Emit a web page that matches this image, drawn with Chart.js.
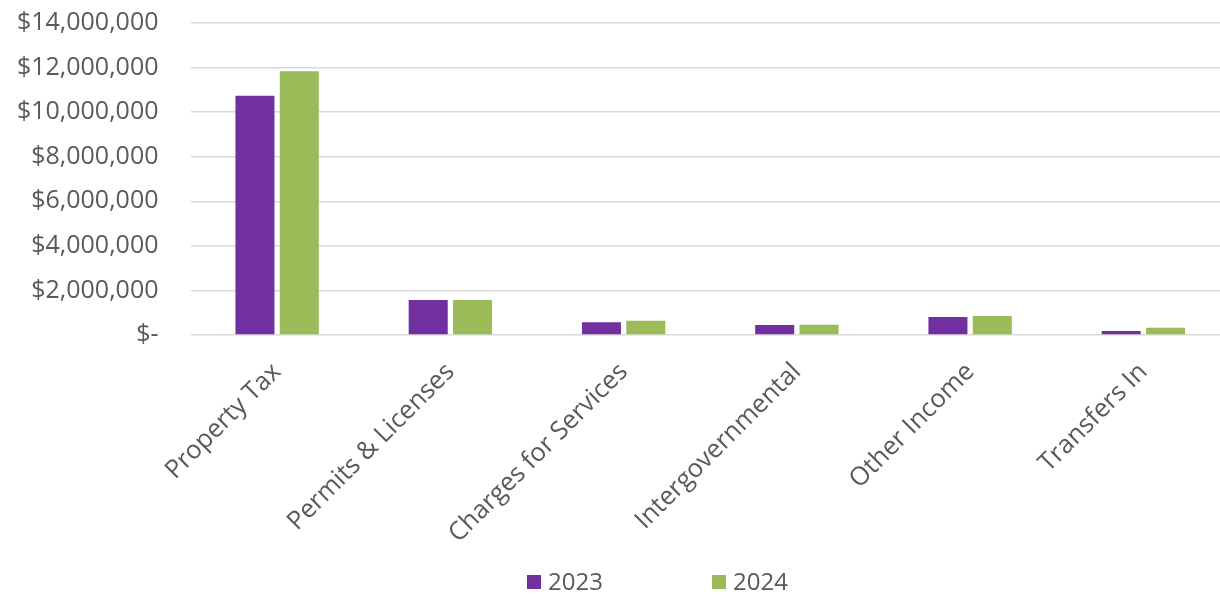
<!DOCTYPE html>
<html>
<head>
<meta charset="utf-8">
<script src="https://cdn.jsdelivr.net/npm/chart.js@4.4.1/dist/chart.umd.min.js"></script>
<style>
  html, body { margin: 0; padding: 0; background: #ffffff; overflow: hidden; }
  #wrap { position: relative; width: 1230px; height: 595px; overflow: hidden; }
  #chart { position: absolute; left: 0; top: -24px; }
  .legend { position: absolute; top: 566px; font-family: "Open Sans", Lato, sans-serif; font-size: 24px; color: #595959; line-height: 30px; white-space: nowrap; }
  .legend .box { display: inline-block; width: 14px; height: 14px; margin-right: 7px; vertical-align: 1px; }
</style>
</head>
<body>
<div id="wrap">
  <canvas id="chart" width="1230" height="619"></canvas>
  <div class="legend" style="left:527px"><span class="box" style="background:#7030A0"></span>2023</div>
  <div class="legend" style="left:712px"><span class="box" style="background:#9BBB59"></span>2024</div>
</div>
<script>
// Revenue by source, fiscal years 2023 and 2024 (dollars)
const categories = [
  'Property Tax',
  'Permits & Licenses',
  'Charges for Services',
  'Intergovernmental',
  'Other Income',
  'Transfers In'
];
const seriesNames = ['2023', '2024'];
const revenue2023 = [10730000, 1565000, 570000, 450000, 805000, 180000];
const revenue2024 = [11840000, 1565000, 640000, 460000, 850000, 330000];
const yTickValues = [0, 2000000, 4000000, 6000000, 8000000, 10000000, 12000000, 14000000];

const FONT = '"Open Sans", Lato, sans-serif';
const TEXT = '#595959';

function formatDollars(v) {
  if (v === 0) return '$-';
  return '$' + v.toLocaleString('en-US');
}

new Chart(document.getElementById('chart'), {
  type: 'bar',
  data: {
    labels: categories,
    datasets: [
      { label: seriesNames[0], data: revenue2023, backgroundColor: '#7030A0' },
      { label: seriesNames[1], data: revenue2024, backgroundColor: '#9BBB59' }
    ]
  },
  options: {
    responsive: false,
    animation: false,
    layout: { padding: { top: 0, right: 0, left: 0, bottom: 0 } },
    datasets: { bar: { categoryPercentage: 0.512, barPercentage: 0.88 } },
    plugins: {
      legend: { display: false },
      tooltip: { enabled: false }
    },
    scales: {
      x: {
        grid: { display: false, drawTicks: false },
        border: { display: false },
        ticks: {
          color: TEXT,
          font: { family: FONT, size: 25.5 },
          maxRotation: 45,
          minRotation: 45,
          padding: 22,
          autoSkip: false
        },
        afterFit: (scale) => { scale.height = 260; }
      },
      y: {
        min: 0,
        max: 14000000,
        afterBuildTicks: (scale) => { scale.ticks = yTickValues.map(v => ({ value: v })); },
        grid: { color: '#D9D9D9', lineWidth: 1.5, drawTicks: false },
        border: { display: false },
        ticks: {
          color: TEXT,
          font: { family: FONT, size: 25 },
          padding: 32,
          callback: (v) => formatDollars(v)
        },
        afterFit: (scale) => { scale.width = 190.5; }
      }
    }
  }
});
</script>
</body>
</html>
